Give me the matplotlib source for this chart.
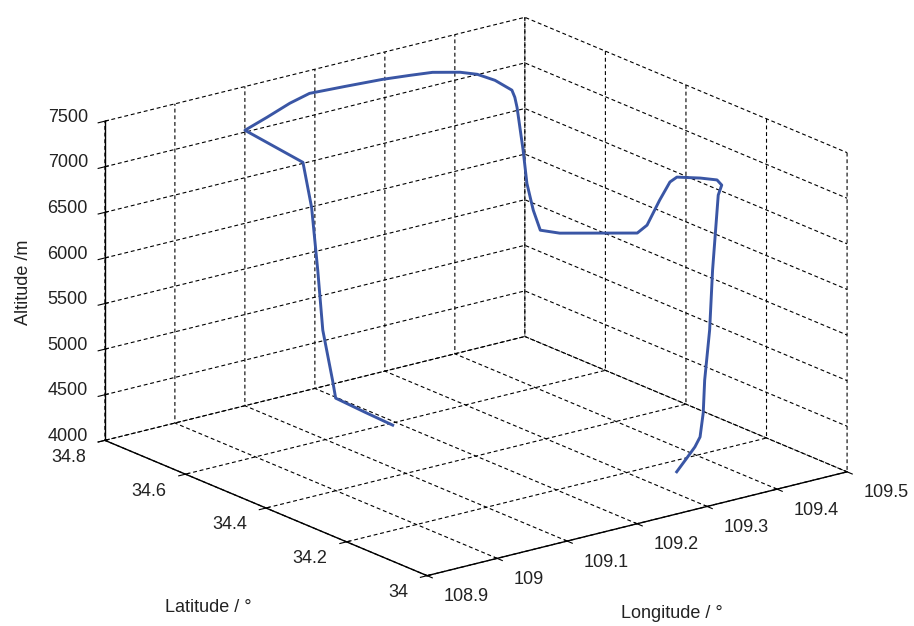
import matplotlib
matplotlib.use('Agg')
import matplotlib.pyplot as plt
import numpy as np
from mpl_toolkits.mplot3d import proj3d

plt.rcParams['font.family'] = ['Liberation Sans', 'DejaVu Sans']

# flight track
lon = [109.123, 109.116, 109.110, 109.109, 109.106, 109.108, 109.109, 109.107,
       109.065, 109.093, 109.132, 109.163, 109.204, 109.249, 109.278, 109.303,
       109.328, 109.341, 109.348, 109.348, 109.347, 109.349, 109.341, 109.332,
       109.325, 109.308, 109.323, 109.393, 109.407, 109.425, 109.438, 109.441,
       109.460, 109.473, 109.474, 109.469, 109.450, 109.436, 109.422, 109.409,
       109.378, 109.358, 109.331, 109.298]
lat = [34.473, 34.530, 34.592, 34.598, 34.617, 34.633, 34.650, 34.668,
       34.739, 34.733, 34.744, 34.749, 34.732, 34.717, 34.700, 34.687,
       34.662, 34.642, 34.610, 34.568, 34.559, 34.557, 34.528, 34.503,
       34.475, 34.428, 34.406, 34.335, 34.335, 34.335, 34.332, 34.320,
       34.295, 34.276, 34.266, 34.266, 34.247, 34.230, 34.218, 34.199,
       34.153, 34.131, 34.104, 34.072]
alt = [4350, 4400, 4450, 4637, 5157, 5781, 6436, 6900,
       7200, 7300, 7360, 7400, 7430, 7450, 7470, 7480,
       7480, 7470, 7450, 7420, 7360, 7250, 6850, 6550,
       6320, 6220, 6200, 6200, 6260, 6500, 6680, 6750,
       6750, 6740, 6700, 6600, 5850, 5250, 4750, 4450,
       4330, 4300, 4280, 4250]

lon_ticks = [108.9, 109, 109.1, 109.2, 109.3, 109.4, 109.5]
lon_labels = ['108.9', '109', '109.1', '109.2', '109.3', '109.4', '109.5']
lat_ticks = [34, 34.2, 34.4, 34.6, 34.8]
lat_labels = ['34', '34.2', '34.4', '34.6', '34.8']
alt_ticks = [4000, 4500, 5000, 5500, 6000, 6500, 7000, 7500]

W, H = 914, 626
txt = dict(fontsize=13, color='#222222')

fig = plt.figure(figsize=(W / 100, H / 100), dpi=100)
ax = fig.add_subplot(projection='3d', proj_type='ortho')
ax.set_position([0.1, 0.0, 0.8, 1.0])
ax.view_init(elev=18.8, azim=-127.5)
ax.set_box_aspect((1, 1, 0.637))

ax.plot(lon, lat, alt, color='#3a56a5', lw=2.1)

ax.set_xlim(108.9, 109.5)
ax.set_ylim(34, 34.8)
ax.set_zlim(4000, 7500)
ax.set_xticks(lon_ticks)
ax.set_yticks(lat_ticks)
ax.set_zticks(alt_ticks)

for axis in (ax.xaxis, ax.yaxis, ax.zaxis):
    axis.set_major_formatter(plt.NullFormatter())
    axis.set_pane_color((1, 1, 1, 0))
    axis.pane.set_edgecolor('none')
    axis._axinfo['grid'].update(color='black', linewidth=0.8, linestyle=(0, (3.5, 2.5)))
    axis._axinfo['axisline']['color'] = 'black'
    axis.line.set_linewidth(1.0)
    for t in axis.get_major_ticks():
        t.tick1line.set_color('black')
        t.label1.set_visible(False)
        t.label2.set_visible(False)


def to_pixels(x, y, z):
    px, py, _ = proj3d.proj_transform(x, y, z, ax.get_proj())
    return ax.transData.transform((px, py))


# fit the box onto the same place as in the picture
targets = {(108.9, 34, 4000): (427, 576), (109.5, 34, 4000): (847, 472),
           (108.9, 34.8, 4000): (105, 440), (108.9, 34.8, 7500): (105, 121)}
for _ in range(2):
    fig.canvas.draw()
    pos = ax.get_position()
    S = pos.width * W
    c = np.array([(pos.x0 + pos.width / 2) * W, (pos.y0 + pos.height / 2) * H])
    A, b = [], []
    for (x, y, z), (tx, ty) in targets.items():
        q = (to_pixels(x, y, z) - c) / S
        A += [[q[0], 1, 0], [q[1], 0, 1]]
        b += [tx, H - ty]
    S2, cx, cy = np.linalg.lstsq(np.array(A), np.array(b), rcond=None)[0]
    ax.set_position([(cx - S2 / 2) / W, (cy - S2 / 2) / H, S2 / W, S2 / H])
fig.canvas.draw()

# tick labels placed the MATLAB way, next to the projected ticks
x0, x1 = ax.get_xlim()
y0, y1 = ax.get_ylim()
z0 = ax.get_zlim()[0]
for v, s in zip(lon_ticks, lon_labels):
    p = to_pixels(v, y0 - 0.04, z0 - 157)
    fig.text(p[0] / W, p[1] / H, s, ha='left', va='center', **txt)
for v, s in zip(lat_ticks, lat_labels):
    p = to_pixels(x0 - 0.027, v, z0 - 135)
    fig.text(p[0] / W, p[1] / H, s, ha='right', va='center', **txt)
for v in alt_ticks:
    p = to_pixels(x0 - 0.007, y1 + 0.03, v)
    fig.text(p[0] / W, p[1] / H, str(v), ha='right', va='center', **txt)

fig.text(23 / W, 1 - 282 / H, 'Altitude /m', rotation=90, ha='center', va='center', **txt)
fig.text(208 / W, 1 - 608 / H, 'Latitude / \u00b0', ha='center', va='center', **txt)
fig.text(672 / W, 1 - 613 / H, 'Longitude / \u00b0', ha='center', va='center', **txt)

fig.savefig('out.png', dpi=100)
